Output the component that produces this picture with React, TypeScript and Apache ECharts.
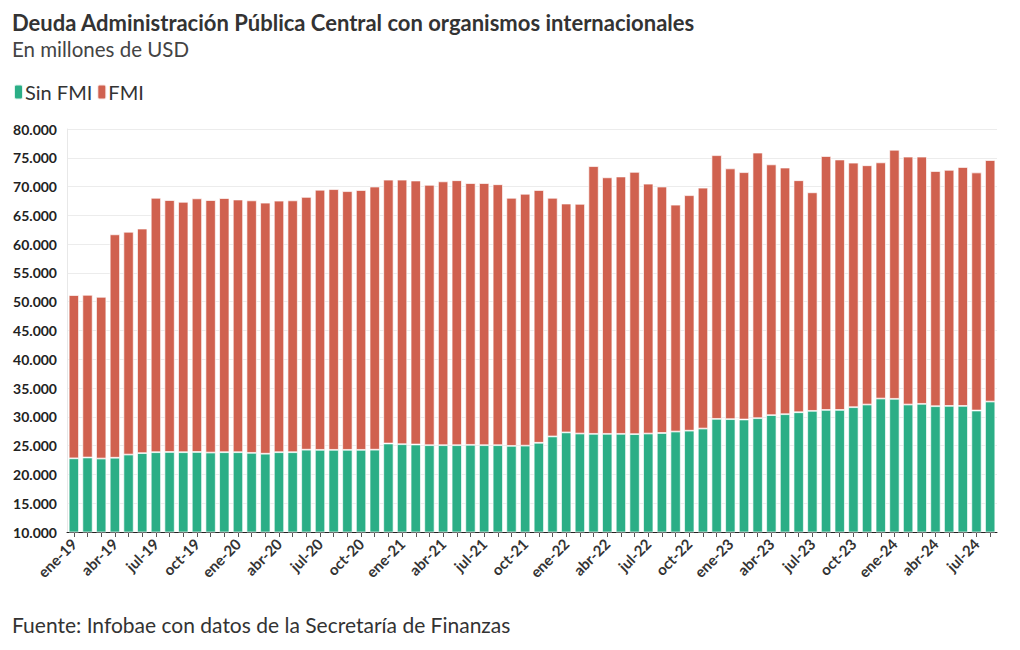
import React, { useEffect, useRef } from "react";
import * as echarts from "echarts";

const months = ["ene", "feb", "mar", "abr", "may", "jun", "jul", "ago", "sep", "oct", "nov", "dic"];
const years = ["19", "20", "21", "22", "23", "24"];
const categories: string[] = [];
for (const y of years) for (const m of months) categories.push(`${m}-${y}`);
categories.length = 68; // ene-19 .. ago-24

const sinFMI = [
  22800, 22940, 22760, 22900, 23450, 23700, 23860, 23900, 23860, 23900, 23800, 23860,
  23860, 23750, 23600, 23860, 23860, 24300, 24270, 24270, 24270, 24270, 24300, 25370,
  25250, 25200, 25080, 25080, 25080, 25140, 25080, 25080, 24960, 25000, 25500, 26600,
  27300, 27100, 27050, 27050, 27050, 27000, 27100, 27200, 27450, 27600, 27970, 29650,
  29600, 29540, 29770, 30300, 30460, 30800, 31040, 31200, 31200, 31680, 32140, 33180,
  33130, 32140, 32260, 31850, 31900, 31900, 31100, 32660,
];

const fmi = [
  28350, 28260, 28090, 38800, 38700, 39000, 44190, 43750, 43490, 44050, 43850, 44140,
  43890, 43850, 43600, 43690, 43740, 43900, 45180, 45280, 44930, 45130, 45700, 45830,
  45950, 45850, 45220, 45820, 46020, 45460, 45520, 45320, 43090, 43750, 43900, 41450,
  39750, 39900, 46500, 44550, 44700, 45550, 43400, 42800, 39400, 40900, 41830, 45800,
  43550, 42960, 46130, 43550, 42840, 40300, 37960, 44100, 43500, 42470, 41560, 41020,
  43270, 43060, 42940, 40850, 41000, 41500, 41350, 41940,
];

const seriesNames = ["Sin FMI", "FMI"];
const colors = ["#2bae86", "#d0614f"];

const title = "Deuda Administración Pública Central con organismos internacionales";
const subtitle = "En millones de USD";
const source = "Fuente: Infobae con datos de la Secretaría de Finanzas";

const FONT = "Lato, 'Noto Sans', sans-serif";

export default function App() {
  const ref = useRef<HTMLDivElement>(null);
  useEffect(() => {
    document.body.style.margin = "0";
    const chart = echarts.init(ref.current!, null, { renderer: "svg" });
    chart.setOption({
      animation: false,
      backgroundColor: "#ffffff",
      textStyle: { fontFamily: FONT },
      graphic: [
        {
          type: "text",
          left: 12,
          top: 11,
          style: { text: title, fontSize: 22, fontWeight: "bold", fill: "#333333", fontFamily: FONT },
        },
        {
          type: "text",
          left: 12,
          top: 38,
          style: { text: subtitle, fontSize: 20.5, fill: "#444444", fontFamily: FONT },
        },
        {
          type: "text",
          left: 12,
          top: 614,
          style: { text: source, fontSize: 21, fill: "#333333", fontFamily: FONT },
        },
      ],
      legend: {
        left: 8,
        top: 77,
        icon: "roundRect",
        itemWidth: 9,
        itemHeight: 15,
        itemGap: 4,
        textStyle: { fontSize: 20, color: "#333333", padding: [0, 0, 0, -3], fontFamily: FONT },
        data: seriesNames,
      },
      grid: { left: 67, right: 23, top: 129, bottom: 118, containLabel: false },
      xAxis: {
        type: "category",
        data: categories,
        axisLine: { lineStyle: { color: "#222222", width: 1 } },
        axisTick: { show: true, interval: 0, alignWithLabel: true, length: 5, lineStyle: { color: "#555555" } },
        axisLabel: {
          interval: 2,
          rotate: 45,
          fontSize: 15,
          fontWeight: "bold",
          color: "#333333",
          margin: 9,
          fontFamily: FONT,
        },
      },
      yAxis: {
        type: "value",
        min: 10000,
        max: 80000,
        interval: 5000,
        axisLine: { show: true, lineStyle: { color: "#e8e8e8" } },
        axisTick: { show: false },
        splitLine: { lineStyle: { color: "#ececec" } },
        axisLabel: {
          fontSize: 14,
          fontWeight: "bold",
          color: "#222222",
          margin: 10,
          fontFamily: FONT,
          formatter: (v: number) => v.toLocaleString("de-DE"),
        },
      },
      series: [
        {
          name: seriesNames[0],
          type: "bar",
          stack: "total",
          data: sinFMI,
          barCategoryGap: "25%",
          itemStyle: { color: colors[0], borderColor: "rgba(255,255,255,0.85)", borderWidth: 0.8 },
        },
        {
          name: seriesNames[1],
          type: "bar",
          stack: "total",
          data: fmi,
          barCategoryGap: "25%",
          itemStyle: { color: colors[1], borderColor: "rgba(255,255,255,0.85)", borderWidth: 0.8 },
        },
      ],
    });
    return () => chart.dispose();
  }, []);
  return <div ref={ref} style={{ width: 1020, height: 650, position: "absolute", left: 0, top: 0 }} />;
}
